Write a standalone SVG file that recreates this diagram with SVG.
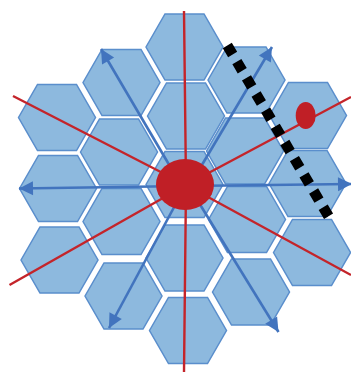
<svg xmlns="http://www.w3.org/2000/svg" width="351" height="372" viewBox="0 0 351 372">
<style>
.hex{fill:#8DB9DE;stroke:#5A8ECC;stroke-width:1.5;stroke-linejoin:miter}
.blue{fill:none;stroke:#4274BE;stroke-width:2.6}
.red{fill:none;stroke:#C4242A;stroke-width:2.4}
.spot{fill:#C01F26}
.dash{fill:none;stroke:#000;stroke-width:10.5;stroke-dasharray:10.5 8.3}
</style>
<defs>
<polygon id="h" points="-38.5,0 -19.5,-33 19.5,-33 38.5,0 19.5,33 -19.5,33"/>
<marker id="a" markerUnits="userSpaceOnUse" markerWidth="16" markerHeight="16" refX="14" refY="7.5" orient="auto" overflow="visible">
<path d="M0,0.5 L14,7.5 L0,14.5 Z" fill="#4274BE"/>
</marker>
</defs>
<g id="hexagons">
<use href="#h" class="hex" x="184.5" y="47"/>
<use href="#h" class="hex" x="121.5" y="82.5"/>
<use href="#h" class="hex" x="57" y="117.5"/>
<use href="#h" class="hex" x="119" y="152"/>
<use href="#h" class="hex" x="186" y="116"/>
<use href="#h" class="hex" x="184.5" y="184.5"/>
<use href="#h" class="hex" x="58" y="188.5"/>
<use href="#h" class="hex" x="59.5" y="260"/>
<use href="#h" class="hex" x="121.5" y="221.5"/>
<use href="#h" class="hex" x="123.5" y="296"/>
<use href="#h" class="hex" x="184.5" y="258"/>
<use href="#h" class="hex" x="188" y="330.5"/>
<use href="#h" class="hex" x="251" y="292"/>
<use href="#h" class="hex" x="312" y="252.5"/>
<use href="#h" class="hex" x="247" y="219.5"/>
<use href="#h" class="hex" x="307.5" y="183.5"/>
<use href="#h" class="hex" x="308" y="115.5"/>
<use href="#h" class="hex" x="246.5" y="80"/>
<use href="#h" class="hex" x="245" y="151"/>
</g>
<g id="connectors">
<path class="blue" marker-end="url(#a)" d="M181,185 L101,49"/>
<path class="blue" marker-end="url(#a)" d="M190,185 L272,47"/>
<path class="blue" marker-end="url(#a)" d="M186,185 L109,328"/>
<path class="blue" marker-end="url(#a)" d="M188,185 L278.5,332"/>
<path class="blue" marker-end="url(#a)" d="M186,186 L19,188.5"/>
<path class="blue" marker-end="url(#a)" d="M186,186 L352,184"/>
<path class="red" d="M184,11 L186,185 L184,372"/>
<path class="red" d="M13,96 L186,185 L351,275"/>
<path class="red" d="M9.5,285 L186,185 L351,97"/>
<path class="dash" d="M227.3,45.5 L329,217"/>
</g>
<g id="hub"><ellipse class="spot" cx="185" cy="184.5" rx="29" ry="25.5"/></g>
<g id="spot"><ellipse class="spot" cx="305.7" cy="115.5" rx="10" ry="13.5"/></g>
</svg>
